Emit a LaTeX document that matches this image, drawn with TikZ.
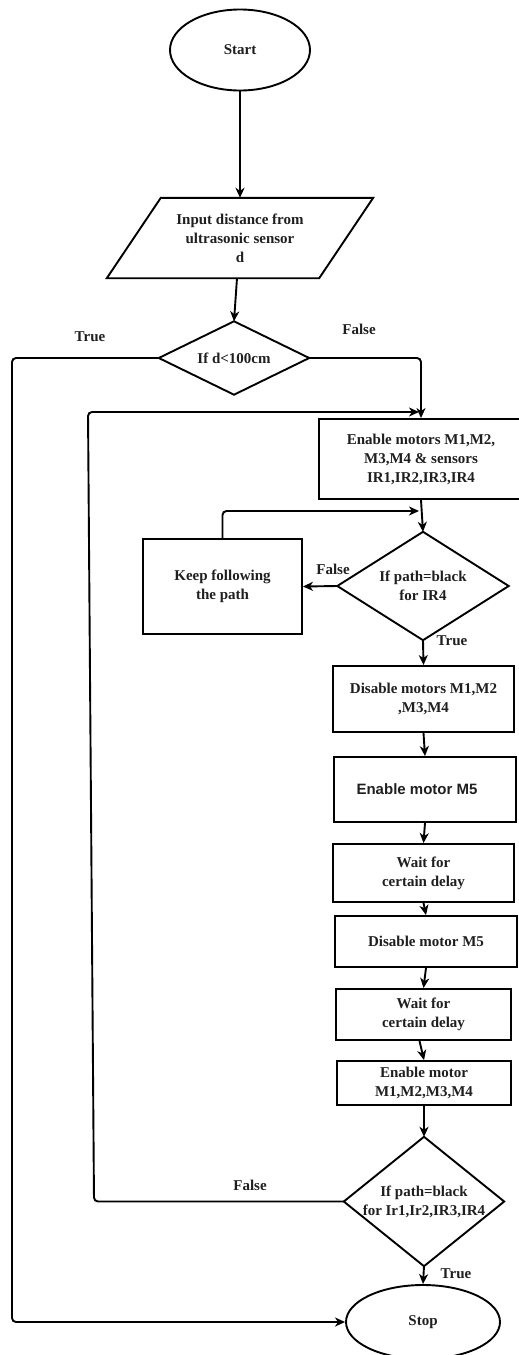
\documentclass[tikz,border=0pt]{standalone}
\usepackage{fontspec}
\setmainfont{Liberation Serif}
\newfontfamily\arialfont{Liberation Sans}
\usetikzlibrary{shapes.geometric,arrows.meta,calc}
\begin{document}
\begin{tikzpicture}[x=1pt,y=-1pt,
  every node/.style={font=\fontsize{15}{19}\selectfont\bfseries, text=black!88},
  line/.style={draw, line width=1.9pt},
  arr/.style={draw, line width=1.9pt, -{Stealth[length=10pt,width=9pt,inset=3pt]}, rounded corners=4pt},
  box/.style={draw, line width=1.9pt, rectangle, inner sep=0pt, align=center},
  term/.style={draw, line width=1.9pt, ellipse, inner sep=0pt},
  frame/.style={rectangle, inner sep=0pt, align=center},
  lbl/.style={inner sep=0pt}
]
\useasboundingbox (0,0) rectangle (519,1355);

% nodes
\node[term, minimum width=140pt, minimum height=81pt] (start) at (240,50) {Start};
\node[frame, minimum width=266pt, minimum height=80pt] (input) at (240,238) {Input distance from\\ultrasonic sensor\\d};
\node[frame, minimum width=150pt, minimum height=73pt] (d1) at (234,358) {If d<100cm};
\node[box, minimum width=204pt, minimum height=80pt] (en1) at (421,459) {Enable motors M1,M2,\\M3,M4 \& sensors\\IR1,IR2,IR3,IR4};
\node[frame, minimum width=171pt, minimum height=108pt] (d2) at (423,586) {If path=black\\for IR4};
\node[box, minimum width=159pt, minimum height=95pt] (keep) at (222.5,586.5) {Keep following\\the path};
\node[box, minimum width=181pt, minimum height=66pt] (dis1) at (423.5,699) {Disable motors M1,M2\\,M3,M4};
\node[box, minimum width=182pt, minimum height=65pt, font=\arialfont\fontsize{15}{19}\selectfont\bfseries] (en5) at (425,789.5) {\hspace*{-16pt}Enable motor M5};
\node[box, minimum width=181pt, minimum height=58pt] (wait1) at (423.5,873) {Wait for\\certain delay};
\node[box, minimum width=182pt, minimum height=51pt] (dis5) at (426,941.5) {Disable motor M5};
\node[box, minimum width=175pt, minimum height=51pt] (wait2) at (423.5,1014.5) {Wait for\\certain delay};
\node[box, minimum width=174pt, minimum height=44pt] (en2) at (424,1083) {Enable motor\\M1,M2,M3,M4};
\node[frame, minimum width=160pt, minimum height=129pt] (d3) at (424,1201.5) {If path=black\\for Ir1,Ir2,IR3,IR4};
\node[term, minimum width=154pt, minimum height=74pt] (stop) at (423,1322) {Stop};

% outlines for parallelogram and diamonds
\draw[line] ($(input.north west)+(54,0)$) -- (input.north east) -- ($(input.south east)+(-54,0)$) -- (input.south west) -- cycle;
\foreach \d in {d1,d2,d3}{
  \draw[line] (\d.north) -- (\d.east) -- (\d.south) -- (\d.west) -- cycle;
}

% helper coordinates
\coordinate (cT) at (12,0);
\coordinate (cFt) at (88,0);
\coordinate (cFb) at (94,0);
\coordinate (j1) at (419,412);
\coordinate (j2) at (419,511);

% connectors
\draw[arr] (start.south) -- (input.north);
\draw[arr] ($(input.south)+(-3,0)$) -- (d1.north);
\draw[arr] (d1.east) -| (en1.north);
\draw[arr] (d1.west) -- (d1.west -| cT) -- (stop.west -| cT) -- (stop.west);
\draw[arr] (en1.south) -- (d2.north);
\draw[arr] (d2.west) -- (keep.east);
\draw[arr] (keep.north) -- (keep.north |- j2) -- (j2);
\draw[arr] (d2.south) -- (dis1.north);
\draw[arr] (dis1.south) -- (en5.north);
\draw[arr] (en5.south) -- (wait1.north);
\draw[arr] (wait1.south) -- (dis5.north);
\draw[arr] (dis5.south) -- (wait2.north);
\draw[arr] ($(wait2.south)+(-4,0)$) -- (en2.north);
\draw[arr] (en2.south) -- (d3.north);
\draw[arr] (d3.west) -- (d3.west -| cFb) -- (j1 -| cFt) -- (j1);
\draw[arr] (d3.south) -- (stop.north);

% labels
\node[lbl] (tT1) at (90,337) {True};
\node[lbl] (tF1) at (359,329) {False};
\node[lbl] (tF2) at (333,569) {False};
\node[lbl] (tT2) at (452,641) {True};
\node[lbl] (tF3) at (250,1185) {False};
\node[lbl] (tT3) at (456,1274) {True};
\end{tikzpicture}
\end{document}
